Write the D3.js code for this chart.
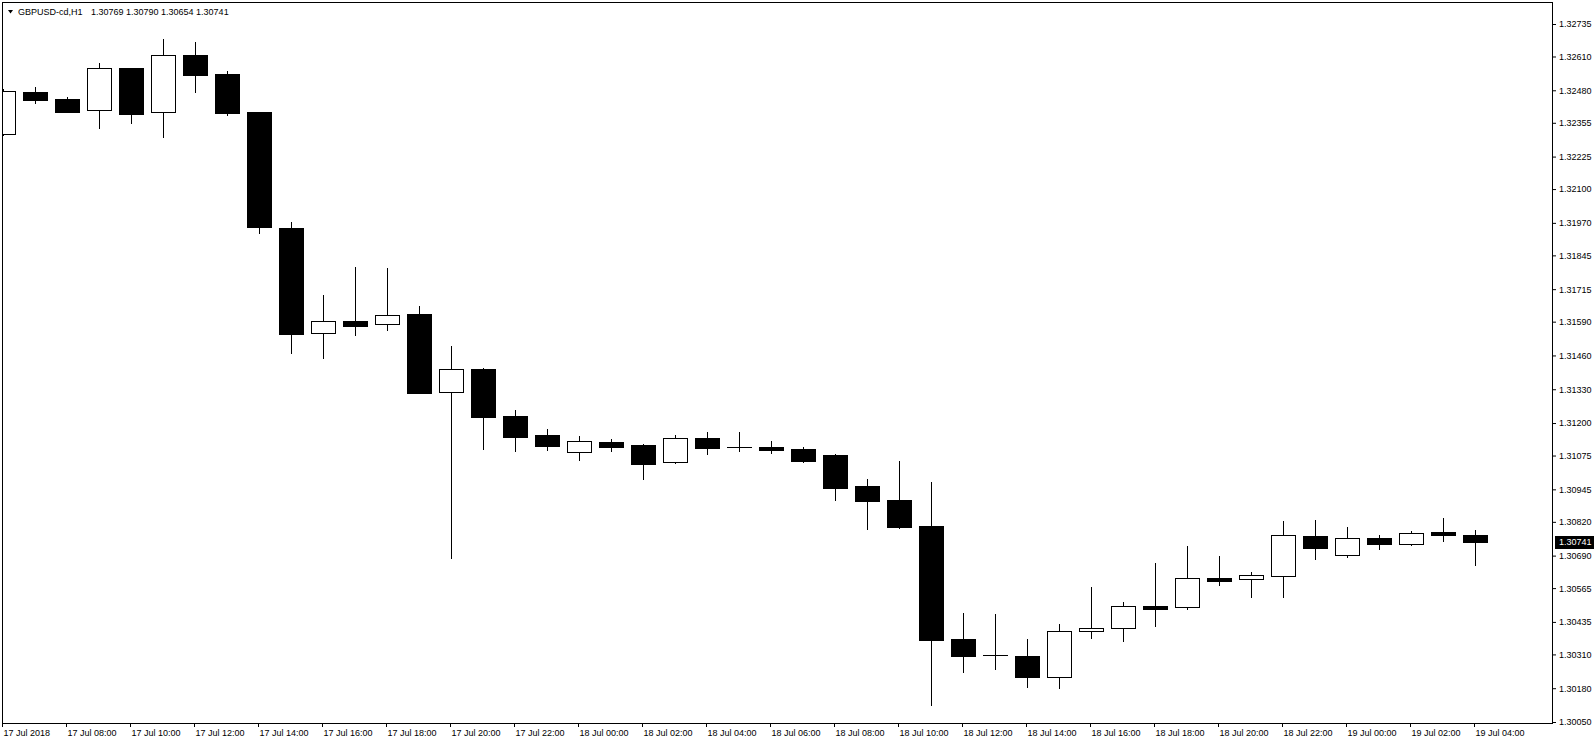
<!DOCTYPE html>
<html>
<head>
<meta charset="utf-8">
<script src="https://cdn.jsdelivr.net/npm/d3@7"></script>
<style>
  html, body { margin: 0; padding: 0; background: #fff; }
  svg { display: block; font-family: "Liberation Sans", Arial, sans-serif; }
</style>
</head>
<body>
<div id="chart"></div>
<script>
const symbol = 'GBPUSD-cd,H1';

// hourly bars, 17 Jul 2018 06:00 .. 19 Jul 2018 04:00
const times = [
  '17.07 06:00', '17.07 07:00', '17.07 08:00', '17.07 09:00', '17.07 10:00', '17.07 11:00',
  '17.07 12:00', '17.07 13:00', '17.07 14:00', '17.07 15:00', '17.07 16:00', '17.07 17:00',
  '17.07 18:00', '17.07 19:00', '17.07 20:00', '17.07 21:00', '17.07 22:00', '17.07 23:00',
  '18.07 00:00', '18.07 01:00', '18.07 02:00', '18.07 03:00', '18.07 04:00', '18.07 05:00',
  '18.07 06:00', '18.07 07:00', '18.07 08:00', '18.07 09:00', '18.07 10:00', '18.07 11:00',
  '18.07 12:00', '18.07 13:00', '18.07 14:00', '18.07 15:00', '18.07 16:00', '18.07 17:00',
  '18.07 18:00', '18.07 19:00', '18.07 20:00', '18.07 21:00', '18.07 22:00', '18.07 23:00',
  '19.07 00:00', '19.07 01:00', '19.07 02:00', '19.07 03:00', '19.07 04:00'
];

const open = [
  1.32311, 1.32473, 1.32447, 1.32403, 1.32566, 1.32395, 1.32616, 1.32543, 1.32397, 1.31950,
  1.31545, 1.31593, 1.31580, 1.31620, 1.31318, 1.31408, 1.31227, 1.31154, 1.31088, 1.31127,
  1.31116, 1.31049, 1.31143, 1.31109, 1.31109, 1.31100, 1.31077, 1.30958, 1.30904, 1.30804,
  1.30368, 1.30306, 1.30304, 1.30222, 1.30399, 1.30411, 1.30497, 1.30492, 1.30604, 1.30602,
  1.30613, 1.30766, 1.30694, 1.30758, 1.30736, 1.30779, 1.30769
];
const high = [
  1.32485, 1.32493, 1.32454, 1.32585, 1.32567, 1.32677, 1.32666, 1.32554, 1.32398, 1.31973,
  1.31693, 1.31800, 1.31797, 1.31650, 1.31497, 1.31410, 1.31250, 1.31177, 1.31150, 1.31139,
  1.31118, 1.31154, 1.31166, 1.31166, 1.31131, 1.31108, 1.31079, 1.30985, 1.31054, 1.30973,
  1.30470, 1.30466, 1.30370, 1.30427, 1.30570, 1.30512, 1.30662, 1.30727, 1.30689, 1.30627,
  1.30823, 1.30827, 1.30800, 1.30770, 1.30785, 1.30835, 1.30790
];
const low = [
  1.32307, 1.32432, 1.32397, 1.32336, 1.32355, 1.32302, 1.32475, 1.32386, 1.31932, 1.31468,
  1.31452, 1.31538, 1.31559, 1.31315, 1.30682, 1.31102, 1.31094, 1.31098, 1.31059, 1.31094,
  1.30986, 1.31047, 1.31082, 1.31094, 1.31086, 1.31050, 1.30905, 1.30794, 1.30797, 1.30117,
  1.30244, 1.30255, 1.30186, 1.30182, 1.30375, 1.30363, 1.30421, 1.30486, 1.30578, 1.30529,
  1.30532, 1.30677, 1.30686, 1.30716, 1.30732, 1.30747, 1.30654
];
const close = [
  1.32476, 1.32444, 1.32398, 1.32565, 1.32390, 1.32615, 1.32540, 1.32394, 1.31955, 1.31544,
  1.31591, 1.31575, 1.31615, 1.31317, 1.31407, 1.31225, 1.31148, 1.31113, 1.31130, 1.31109,
  1.31044, 1.31143, 1.31105, 1.31107, 1.31098, 1.31055, 1.30952, 1.30902, 1.30802, 1.30367,
  1.30305, 1.30307, 1.30225, 1.30399, 1.30411, 1.30495, 1.30486, 1.30603, 1.30594, 1.30615,
  1.30770, 1.30720, 1.30757, 1.30735, 1.30777, 1.30770, 1.30741
];

const timeLabels = [
  '17 Jul 2018', '17 Jul 08:00', '17 Jul 10:00', '17 Jul 12:00', '17 Jul 14:00', '17 Jul 16:00',
  '17 Jul 18:00', '17 Jul 20:00', '17 Jul 22:00', '18 Jul 00:00', '18 Jul 02:00', '18 Jul 04:00',
  '18 Jul 06:00', '18 Jul 08:00', '18 Jul 10:00', '18 Jul 12:00', '18 Jul 14:00', '18 Jul 16:00',
  '18 Jul 18:00', '18 Jul 20:00', '18 Jul 22:00', '19 Jul 00:00', '19 Jul 02:00', '19 Jul 04:00'
];
const priceTicks = [
  1.32735, 1.32610, 1.32480, 1.32355, 1.32225, 1.32100, 1.31970, 1.31845, 1.31715, 1.31590,
  1.31460, 1.31330, 1.31200, 1.31075, 1.30945, 1.30820, 1.30690, 1.30565, 1.30435, 1.30310,
  1.30180, 1.30050
];

const W = 1596, H = 744;
const frame = { left: 2, top: 2, right: 1552, bottom: 723 };
const bodyHalf = 12;

const bars = times.map((t, i) => ({ t, o: open[i], h: high[i], l: low[i], c: close[i] }));

const svg = d3.select('#chart').append('svg')
  .attr('width', W)
  .attr('height', H);

// bar centre column for each hour, one bar every 32px
const x = d3.scalePoint()
  .domain(times)
  .range([3, 1475]);

const y = d3.scaleLinear()
  .domain([1.30050, 1.32735])
  .range([722, 24]);

svg.append('clipPath').attr('id', 'plot')
  .append('rect')
  .attr('x', frame.left + 1).attr('y', frame.top + 1)
  .attr('width', frame.right - frame.left - 1)
  .attr('height', frame.bottom - frame.top - 1);

const plot = svg.append('g').attr('clip-path', 'url(#plot)');

const candle = plot.selectAll('.bar')
  .data(bars)
  .enter().append('g')
  .attr('class', 'bar');

// wicks
candle.append('line')
  .attr('x1', d => x(d.t) + 0.5)
  .attr('x2', d => x(d.t) + 0.5)
  .attr('y1', d => Math.round(y(d.h)))
  .attr('y2', d => Math.round(y(d.l)) + 1)
  .attr('stroke', '#000')
  .attr('stroke-width', 1);

// bodies
candle.each(function (d) {
  const g = d3.select(this);
  const cx = x(d.t);
  const top = Math.round(y(Math.max(d.o, d.c)));
  const bot = Math.round(y(Math.min(d.o, d.c)));
  if (bot - top < 1) {
    g.append('line')
      .attr('x1', cx - bodyHalf).attr('x2', cx + bodyHalf + 1)
      .attr('y1', top + 0.5).attr('y2', top + 0.5)
      .attr('stroke', '#000');
  } else if (d.c < d.o) {
    g.append('rect')
      .attr('x', cx - bodyHalf).attr('y', top)
      .attr('width', bodyHalf * 2 + 1).attr('height', bot - top + 1)
      .attr('fill', '#000');
  } else {
    g.append('rect')
      .attr('x', cx - bodyHalf + 0.5).attr('y', top + 0.5)
      .attr('width', bodyHalf * 2).attr('height', bot - top)
      .attr('fill', '#fff')
      .attr('stroke', '#000');
  }
});

// chart frame
svg.append('rect')
  .attr('x', frame.left + 0.5).attr('y', frame.top + 0.5)
  .attr('width', frame.right - frame.left)
  .attr('height', frame.bottom - frame.top)
  .attr('fill', 'none')
  .attr('stroke', '#000');

// price axis
const yAxis = svg.append('g')
  .attr('transform', 'translate(' + frame.right + ',0)')
  .call(d3.axisRight(y)
    .tickValues(priceTicks)
    .tickSize(4)
    .tickPadding(3)
    .tickFormat(d3.format('.5f')));
yAxis.select('.domain').remove();
yAxis.attr('font-family', null).attr('font-size', 9);
yAxis.selectAll('text').attr('fill', '#000');

// time axis
const xAxis = svg.append('g')
  .attr('transform', 'translate(-1,' + (frame.bottom + 1) + ')')
  .call(d3.axisBottom(x)
    .tickValues(times.filter((d, i) => i % 2 === 0))
    .tickSize(3)
    .tickPadding(3)
    .tickFormat((d, i) => timeLabels[i]));
xAxis.select('.domain').remove();
xAxis.attr('font-family', null).attr('font-size', 9).attr('text-anchor', 'start');
xAxis.selectAll('text').attr('fill', '#000').attr('x', 1);

// last price marker
const last = bars[bars.length - 1];
const yl = Math.round(y(last.c));
svg.append('rect')
  .attr('x', 1555).attr('y', yl - 6)
  .attr('width', 39).attr('height', 13)
  .attr('fill', '#000');
svg.append('text')
  .attr('x', 1559).attr('y', yl + 0.5)
  .attr('dy', '0.32em')
  .attr('font-size', 9)
  .attr('fill', '#fff')
  .text(d3.format('.5f')(last.c));

// title line
svg.append('path')
  .attr('d', 'M8,10L13,10L10.5,13.5Z')
  .attr('fill', '#000');
svg.append('text')
  .attr('x', 18).attr('y', 14.5)
  .attr('font-size', 9)
  .attr('fill', '#000')
  .text(symbol);
svg.append('text')
  .attr('x', 91).attr('y', 14.5)
  .attr('font-size', 9)
  .attr('fill', '#000')
  .text([last.o, last.h, last.l, last.c].map(d3.format('.5f')).join(' '));
</script>
</body>
</html>
